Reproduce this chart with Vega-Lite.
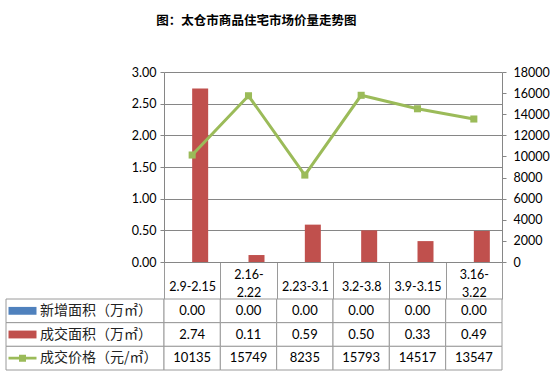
{
  "$schema": "https://vega.github.io/schema/vega-lite/v6.json",
  "padding": {"left": 5, "top": 14, "right": 0, "bottom": 0},
  "background": "white",
  "title": {
    "text": "图：太仓市商品住宅市场价量走势图",
    "font": "Noto Sans CJK SC",
    "fontSize": 12.5,
    "fontWeight": "bold",
    "color": "black",
    "anchor": "middle",
    "offset": 39,
    "dx": -21
  },
  "datasets": {
    "weekly": [
      {"date": "2.9-2.15", "新增面积（万㎡）": 0.00, "成交面积（万㎡）": 2.74, "成交价格（元/㎡）": 10135},
      {"date": "2.16-2.22", "新增面积（万㎡）": 0.00, "成交面积（万㎡）": 0.11, "成交价格（元/㎡）": 15749},
      {"date": "2.23-3.1", "新增面积（万㎡）": 0.00, "成交面积（万㎡）": 0.59, "成交价格（元/㎡）": 8235},
      {"date": "3.2-3.8", "新增面积（万㎡）": 0.00, "成交面积（万㎡）": 0.50, "成交价格（元/㎡）": 15793},
      {"date": "3.9-3.15", "新增面积（万㎡）": 0.00, "成交面积（万㎡）": 0.33, "成交价格（元/㎡）": 14517},
      {"date": "3.16-3.22", "新增面积（万㎡）": 0.00, "成交面积（万㎡）": 0.49, "成交价格（元/㎡）": 13547}
    ]
  },
  "columns": 2,
  "bounds": "flush",
  "align": "each",
  "spacing": {"row": 37, "column": 0},
  "resolve": {"scale": {"color": "independent", "shape": "independent"}},
  "concat": [
    {
      "width": 158,
      "height": 190,
      "data": {"name": "weekly"},
      "mark": {"type": "rect", "opacity": 0},
      "encoding": {}
    },
    {
      "width": 338,
      "height": 190,
      "data": {"name": "weekly"},
      "layer": [
        {
          "transform": [
            {"fold": ["新增面积（万㎡）", "成交面积（万㎡）"], "as": ["series", "value"]}
          ],
          "mark": {"type": "bar"},
          "encoding": {
            "x": {
              "field": "date", "type": "nominal", "sort": null,
              "scale": {"paddingInner": 0, "paddingOuter": 0},
              "axis": {
                "title": null,
                "labelAngle": 0,
                "tickBand": "extent",
                "tickSize": 37,
                "tickColor": "#9a9a9a",
                "domainColor": "#868686",
                "labelPadding": {"condition": {"test": "datum.value == '2.16-2.22' || datum.value == '3.16-3.22'", "value": -25}, "value": -13},
                "labelBaseline": "middle",
                "labelLineHeight": 18,
                "labelFont": "Lato",
                "labelFontSize": 12.5,
                "labelColor": "black",
                "labelExpr": "datum.label == '2.16-2.22' ? ['2.16-', '2.22'] : datum.label == '3.16-3.22' ? ['3.16-', '3.22'] : datum.label",
                "grid": false
              }
            },
            "xOffset": {
              "field": "series", "type": "nominal", "sort": ["新增面积（万㎡）", "成交面积（万㎡）"],
              "scale": {"paddingInner": 0, "paddingOuter": 0.76}
            },
            "y": {
              "field": "value", "type": "quantitative",
              "scale": {"domain": [0, 3], "nice": false},
              "axis": {
                "title": null,
                "format": ".2f",
                "values": [0, 0.5, 1, 1.5, 2, 2.5, 3],
                "grid": true,
                "gridColor": "#868686",
                "gridWidth": 1,
                "domainColor": "#868686",
                "tickColor": "#868686",
                "tickSize": 4,
                "labelPadding": 4,
                "labelFont": "Lato",
                "labelFontSize": 12.5,
                "labelColor": "black"
              }
            },
            "color": {
              "field": "series", "type": "nominal",
              "scale": {"domain": ["新增面积（万㎡）", "成交面积（万㎡）"], "range": ["#4F81BD", "#C0504D"]},
              "legend": null
            }
          }
        },
        {
          "mark": {"type": "line", "color": "#9BBB59", "strokeWidth": 3, "point": {"shape": "square", "size": 50, "filled": true, "color": "#9BBB59"}},
          "encoding": {
            "x": {"field": "date", "type": "nominal", "sort": null},
            "y": {
              "field": "成交价格（元/㎡）", "type": "quantitative",
              "scale": {"domain": [0, 18000], "nice": false},
              "axis": {
                "orient": "right",
                "title": null,
                "values": [0, 2000, 4000, 6000, 8000, 10000, 12000, 14000, 16000, 18000],
                "format": "d",
                "grid": false,
                "domainColor": "#868686",
                "tickColor": "#868686",
                "tickSize": 4,
                "labelPadding": 7,
                "labelFont": "Lato",
                "labelFontSize": 12.5,
                "labelColor": "black"
              }
            }
          }
        }
      ],
      "resolve": {"scale": {"y": "independent"}}
    },
    {
      "width": 158,
      "height": 71,
      "data": {"name": "weekly"},
      "transform": [
        {"fold": ["新增面积（万㎡）", "成交面积（万㎡）", "成交价格（元/㎡）"], "as": ["series", "value"]},
        {"aggregate": [{"op": "count", "as": "n"}], "groupby": ["series"]}
      ],
      "encoding": {
        "y": {
          "field": "series", "type": "nominal",
          "scale": {"domain": ["新增面积（万㎡）", "成交面积（万㎡）", "成交价格（元/㎡）"], "paddingInner": 0, "paddingOuter": 0},
          "axis": null
        }
      },
      "layer": [
        {"mark": {"type": "rect", "fill": "white", "stroke": "#9a9a9a", "strokeWidth": 1}},
        {
          "mark": {"type": "point", "filled": true, "size": 784, "strokeWidth": 0, "opacity": 1, "xOffset": -62.5},
          "encoding": {
            "shape": {
              "field": "series", "type": "nominal",
              "scale": {
                "domain": ["新增面积（万㎡）", "成交面积（万㎡）", "成交价格（元/㎡）"],
                "range": ["M-1,-0.28H1V0.28H-1Z", "M-1,-0.28H1V0.28H-1Z", "M-1,-0.1H-0.25V-0.25H0.25V-0.1H1V0.1H0.25V0.25H-0.25V0.1H-1Z"]
              },
              "legend": null
            },
            "color": {
              "field": "series", "type": "nominal",
              "scale": {
                "domain": ["新增面积（万㎡）", "成交面积（万㎡）", "成交价格（元/㎡）"],
                "range": ["#4F81BD", "#C0504D", "#9BBB59"]
              },
              "legend": null
            }
          }
        },
        {
          "mark": {"type": "text", "align": "left", "baseline": "middle", "dx": -45, "font": "Noto Sans CJK SC", "fontSize": 14, "color": "#222"},
          "encoding": {"text": {"field": "series", "type": "nominal"}}
        }
      ]
    },
    {
      "width": 338,
      "height": 71,
      "data": {"name": "weekly"},
      "transform": [
        {"fold": ["新增面积（万㎡）", "成交面积（万㎡）", "成交价格（元/㎡）"], "as": ["series", "value"]}
      ],
      "encoding": {
        "x": {"field": "date", "type": "nominal", "sort": null, "scale": {"paddingInner": 0, "paddingOuter": 0}, "axis": null},
        "y": {
          "field": "series", "type": "nominal",
          "scale": {"domain": ["新增面积（万㎡）", "成交面积（万㎡）", "成交价格（元/㎡）"], "paddingInner": 0, "paddingOuter": 0},
          "axis": null
        }
      },
      "layer": [
        {"mark": {"type": "rect", "fill": "white", "stroke": "#9a9a9a", "strokeWidth": 1}},
        {
          "transform": [{"filter": "datum.series != '成交价格（元/㎡）'"}],
          "mark": {"type": "text", "baseline": "middle", "font": "Lato", "fontSize": 13, "color": "black"},
          "encoding": {"text": {"field": "value", "type": "quantitative", "format": ".2f"}}
        },
        {
          "transform": [{"filter": "datum.series == '成交价格（元/㎡）'"}],
          "mark": {"type": "text", "baseline": "middle", "font": "Lato", "fontSize": 13, "color": "black"},
          "encoding": {"text": {"field": "value", "type": "quantitative", "format": "d"}}
        }
      ]
    }
  ],
  "config": {
    "view": {"stroke": null},
    "axis": {"labelFont": "Lato"}
  }
}
